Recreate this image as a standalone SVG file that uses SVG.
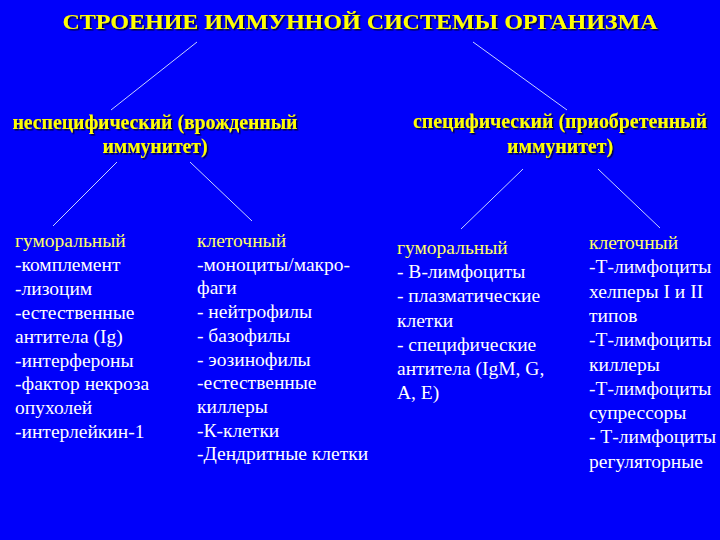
<svg xmlns="http://www.w3.org/2000/svg" width="720" height="540" viewBox="0 0 720 540">
<defs>
<filter id="sh" x="-5%" y="-20%" width="110%" height="150%">
<feDropShadow dx="1.5" dy="1.5" stdDeviation="0.4" flood-color="#000033" flood-opacity="0.9"/>
</filter>
<style>
.bg{fill:#0000FA}
.title{font-family:"Liberation Serif","Times New Roman",serif;font-weight:bold;font-size:22px;fill:#FFFF00;text-anchor:middle}
.head{font-family:"Liberation Serif","Times New Roman",serif;font-weight:bold;font-size:21px;fill:#FFFF00;text-anchor:middle}
.body{font-family:"Liberation Serif","Times New Roman",serif;font-size:19.5px;fill:#FFFFFF}
.sub{fill:#FFFF66}
.conn line{stroke:#C8D4FF;stroke-width:1}
</style>
</defs>
<rect class="bg" x="0" y="0" width="720" height="540"/>
<g id="connectors" class="conn">
<line x1="197" y1="42" x2="111" y2="110"/>
<line x1="473" y1="42" x2="567" y2="110"/>
<line x1="117" y1="162" x2="53" y2="226"/>
<line x1="190" y1="162" x2="252" y2="221"/>
<line x1="523" y1="169" x2="461" y2="229"/>
<line x1="598" y1="169" x2="660" y2="228"/>
</g>
<g id="title" filter="url(#sh)">
<text class="title" x="360" y="29" textLength="595" lengthAdjust="spacingAndGlyphs">СТРОЕНИЕ ИММУННОЙ СИСТЕМЫ ОРГАНИЗМА</text>
</g>
<g id="innate" filter="url(#sh)">
<text class="head" x="155" y="129" textLength="285" lengthAdjust="spacingAndGlyphs">неспецифический (врожденный</text>
<text class="head" x="155" y="153" textLength="105" lengthAdjust="spacingAndGlyphs">иммунитет)</text>
</g>
<g id="acquired" filter="url(#sh)">
<text class="head" x="560" y="128" textLength="294" lengthAdjust="spacingAndGlyphs">специфический (приобретенный</text>
<text class="head" x="560" y="153" textLength="106" lengthAdjust="spacingAndGlyphs">иммунитет)</text>
</g>
<g id="innate-humoral">
<text class="body" x="15" y="247">
<tspan class="sub">гуморальный</tspan>
<tspan x="15" dy="23.9">-комплемент</tspan>
<tspan x="15" dy="23.9">-лизоцим</tspan>
<tspan x="15" dy="23.9">-естественные</tspan>
<tspan x="15" dy="23.9">антитела (Ig)</tspan>
<tspan x="15" dy="23.9">-интерфероны</tspan>
<tspan x="15" dy="23.9">-фактор некроза</tspan>
<tspan x="15" dy="23.9">опухолей</tspan>
<tspan x="15" dy="23.9">-интерлейкин-1</tspan>
</text>
</g>
<g id="innate-cellular">
<text class="body" x="197" y="247">
<tspan class="sub">клеточный</tspan>
<tspan x="197" dy="23.7">-моноциты/макро-</tspan>
<tspan x="197" dy="23.7">фаги</tspan>
<tspan x="197" dy="23.7">- нейтрофилы</tspan>
<tspan x="197" dy="23.7">- базофилы</tspan>
<tspan x="197" dy="23.7">- эозинофилы</tspan>
<tspan x="197" dy="23.7">-естественные</tspan>
<tspan x="197" dy="23.7">киллеры</tspan>
<tspan x="197" dy="23.7">-К-клетки</tspan>
<tspan x="197" dy="23.7">-Дендритные клетки</tspan>
</text>
</g>
<g id="acquired-humoral">
<text class="body" x="397" y="254">
<tspan class="sub">гуморальный</tspan>
<tspan x="397" dy="24.2">- В-лимфоциты</tspan>
<tspan x="397" dy="24.2">- плазматические</tspan>
<tspan x="397" dy="24.2">клетки</tspan>
<tspan x="397" dy="24.2">- специфические</tspan>
<tspan x="397" dy="24.2">антитела (IgM, G,</tspan>
<tspan x="397" dy="24.2">А, Е)</tspan>
</text>
</g>
<g id="acquired-cellular">
<text class="body" x="589" y="249">
<tspan class="sub">клеточный</tspan>
<tspan x="589" dy="24.3">-Т-лимфоциты</tspan>
<tspan x="589" dy="24.3">хелперы I и II</tspan>
<tspan x="589" dy="24.3">типов</tspan>
<tspan x="589" dy="24.3">-Т-лимфоциты</tspan>
<tspan x="589" dy="24.3">киллеры</tspan>
<tspan x="589" dy="24.3">-Т-лимфоциты</tspan>
<tspan x="589" dy="24.3">супрессоры</tspan>
<tspan x="589" dy="24.3">- Т-лимфоциты</tspan>
<tspan x="589" dy="24.3">регуляторные</tspan>
</text>
</g>
</svg>
